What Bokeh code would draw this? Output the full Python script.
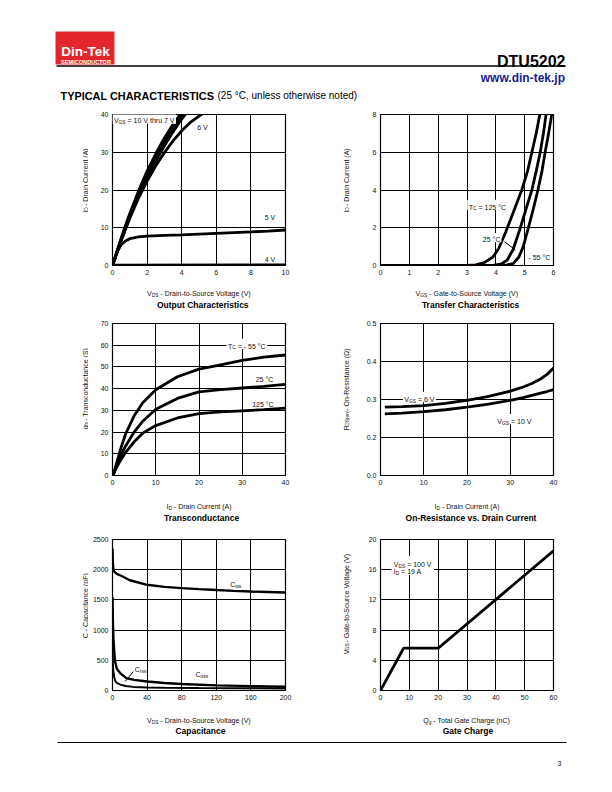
import math
from bokeh.plotting import figure
from bokeh.models import Range1d, FixedTicker, Label, BoxAnnotation
from bokeh.layouts import column, row
from bokeh.embed import file_html
from bokeh.resources import INLINE
from bokeh.core.properties import value

FONT = "Liberation Sans"

# ---------------- data ----------------
# Output characteristics (ID vs VDS)
out_vds_10v = [0, 0.25, 0.5, 0.75, 1, 1.5, 2, 2.5, 3, 3.5, 4]
out_id_10v = [0, 3.6, 7.2, 10.6, 13.8, 19.7, 25.0, 29.6, 33.8, 37.4, 40.6]
out_vds_9v = [0, 0.25, 0.5, 0.75, 1, 1.5, 2, 2.5, 3, 3.5, 4, 4.1]
out_id_9v = [0, 3.5, 7.0, 10.3, 13.4, 19.2, 24.4, 29.0, 33.2, 36.9, 40.2, 40.8]
out_vds_8v = [0, 0.25, 0.5, 0.75, 1, 1.5, 2, 2.5, 3, 3.5, 4, 4.2]
out_id_8v = [0, 3.4, 6.8, 10.0, 13.1, 18.8, 23.9, 28.4, 32.5, 36.2, 39.6, 40.8]
out_vds_7v = [0, 0.25, 0.5, 0.75, 1, 1.5, 2, 2.5, 3, 3.5, 4, 4.3]
out_id_7v = [0, 3.3, 6.6, 9.7, 12.7, 18.2, 23.2, 27.7, 31.7, 35.4, 38.8, 40.6]
out_vds_6v = [0, 0.25, 0.5, 0.75, 1, 1.5, 2, 2.5, 3, 3.5, 4, 4.5, 5, 5.5]
out_id_6v = [0, 3.3, 6.5, 9.6, 12.5, 17.8, 22.4, 26.4, 29.9, 33.0, 35.7, 37.9, 39.6, 41.0]
out_vds_5v = [0, 0.15, 0.3, 0.5, 0.75, 1, 1.5, 2, 3, 4, 5, 6, 7, 8, 9, 10]
out_id_5v = [0, 2.1, 3.9, 5.5, 6.5, 7.1, 7.6, 7.8, 8.0, 8.1, 8.3, 8.5, 8.7, 8.9, 9.1, 9.4]
out_vds_4v = [0, 10]
out_id_4v = [0.05, 0.12]
out_x_ticks = [0, 2, 4, 6, 8, 10]
out_y_ticks = [0, 10, 20, 30, 40]

# Transfer characteristics (ID vs VGS)
tr_vgs_125 = [0, 3.0, 3.3, 3.6, 3.9, 4.1, 4.35, 4.6, 4.9, 5.1, 5.25, 5.4, 5.55]
tr_id_125 = [0, 0, 0.03, 0.15, 0.45, 0.9, 1.8, 2.8, 4.0, 5.0, 6.0, 7.0, 8.2]
tr_vgs_25 = [0, 3.9, 4.2, 4.4, 4.6, 4.85, 5.05, 5.25, 5.4, 5.54, 5.65, 5.76]
tr_id_25 = [0, 0, 0.08, 0.3, 0.85, 2.0, 3.0, 4.0, 5.0, 6.0, 7.0, 8.2]
tr_vgs_m55 = [0, 4.3, 4.6, 4.8, 4.95, 5.13, 5.3, 5.46, 5.6, 5.71, 5.83, 5.96]
tr_id_m55 = [0, 0, 0.1, 0.45, 1.0, 2.0, 3.0, 4.0, 5.0, 6.0, 7.0, 8.2]
tr_x_ticks = [0, 1, 2, 3, 4, 5, 6]
tr_y_ticks = [0, 2, 4, 6, 8]

# Transconductance (gfs vs ID)
gfs_id = [0, 0.3, 1, 2, 3, 5, 7, 10, 15, 20, 25, 30, 35, 40]
gfs_m55 = [0, 1, 6, 13, 19, 27.5, 33.5, 39.5, 45.5, 49, 51, 53, 54.5, 55.5]
gfs_25 = [0, 1, 5, 9.5, 13.5, 20, 25, 30.5, 35.5, 38.5, 39.5, 40.3, 41, 42]
gfs_125 = [0, 1, 4, 7.5, 10.5, 15.5, 19.5, 23, 26.5, 28.5, 29.3, 29.8, 30.3, 31]
gfs_x_ticks = [0, 10, 20, 30, 40]
gfs_y_ticks = [0, 10, 20, 30, 40, 50, 60, 70]

# On-resistance vs drain current
rds_id = [1, 5, 10, 15, 20, 25, 30, 33, 35, 37, 38.5, 40]
rds_6v = [0.280, 0.281, 0.284, 0.290, 0.298, 0.308, 0.322, 0.333, 0.342, 0.354, 0.366, 0.383]
rds_10v = [0.262, 0.264, 0.268, 0.273, 0.280, 0.288, 0.298, 0.305, 0.311, 0.317, 0.321, 0.326]
rds_x_ticks = [0, 10, 20, 30, 40]
rds_y_ticks = [0.1, 0.2, 0.3, 0.4, 0.5]
rds_y_labels = ["0.0", "0.2", "0.3", "0.4", "0.5"]

# Capacitance vs VDS
cap_vds_ciss = [0, 0.5, 1, 2, 5, 10, 20, 40, 60, 80, 100, 120, 140, 160, 180, 200]
cap_ciss = [2350, 2100, 2010, 1970, 1930, 1900, 1825, 1750, 1715, 1695, 1678, 1663, 1650, 1638, 1630, 1622]
cap_vds_coss = [0, 0.5, 1, 1.5, 2, 3, 5, 9, 16, 25, 40, 60, 80, 120, 160, 200]
cap_coss = [1550, 1150, 880, 770, 650, 480, 360, 285, 205, 175, 150, 125, 108, 85, 72, 62]
cap_vds_crss = [0, 0.5, 1, 2, 3.4, 5, 9, 15, 24, 40, 60, 100, 140, 200]
cap_crss = [650, 420, 320, 220, 150, 125, 97, 75, 60, 50, 45, 40, 37, 33]
cap_x_ticks = [0, 40, 80, 120, 160, 200]
cap_y_ticks = [0, 500, 1000, 1500, 2000, 2500]

# Gate charge
qg_nc = [0, 8, 20, 60]
qg_vgs = [0, 5.6, 5.6, 18.5]
qg_x_ticks = [0, 10, 20, 30, 40, 50, 60]
qg_y_ticks = [0, 4, 8, 12, 16, 20]

# ---------------- text helpers ----------------
W = {' ': 278, '(': 333, ')': 333, ',': 278, '-': 333, '.': 278, '/': 278, '=': 584,
     ':': 278, '°': 400, 'Ω': 768,
     'A': 667, 'B': 667, 'C': 722, 'D': 722, 'E': 667, 'F': 611, 'G': 778, 'H': 722,
     'I': 278, 'J': 500, 'K': 667, 'L': 556, 'M': 833, 'N': 722, 'O': 778, 'P': 667,
     'Q': 778, 'R': 722, 'S': 667, 'T': 611, 'U': 722, 'V': 667, 'W': 944, 'X': 667,
     'Y': 667, 'Z': 611,
     'a': 556, 'b': 556, 'c': 500, 'd': 556, 'e': 556, 'f': 278, 'g': 556, 'h': 556,
     'i': 222, 'j': 222, 'k': 500, 'l': 222, 'm': 833, 'n': 556, 'o': 556, 'p': 556,
     'q': 556, 'r': 333, 's': 500, 't': 278, 'u': 556, 'v': 500, 'w': 722, 'x': 500,
     'y': 500, 'z': 500}


def twidth(s, size):
    return sum(W.get(c, 556) for c in s) * size / 1000.0


SCALES = {}
TXT = "#111111"
SUB = 0.7


def rich(p, x, y, parts, size=7.0, align="left", box=None):
    """Text inside a chart frame (Label annotations, anchored in data units)."""
    base = -0.358 * size
    sizes = [size * SUB if s else size for _, s in parts]
    widths = [twidth(t, fs) for (t, _), fs in zip(parts, sizes)]
    total = sum(widths)
    start = {"left": 0.0, "center": -total / 2.0, "right": -total}[align]
    if box is not None:
        sx, sy = SCALES[id(p)]
        l = start - box
        r = start + total + box
        b = -0.55 * size - box
        t = 0.5 * size + box
        p.add_layout(BoxAnnotation(left=x + l / sx, right=x + r / sx, bottom=y + b / sy,
                                   top=y + t / sy, fill_color="white", fill_alpha=1.0,
                                   line_color=None))
    pos = start
    for (t, s), fs, w in zip(parts, sizes, widths):
        stripped = t.lstrip(" ")
        lead = twidth(t[:len(t) - len(stripped)], fs)
        shift = -0.25 * size if s else 0.0
        lab = Label(x=x, y=y, text=stripped, x_offset=pos + lead, y_offset=base + shift,
                    text_align="left", text_baseline="alphabetic", text_font=FONT,
                    text_font_size=f"{fs:.2f}px", text_color=TXT)
        p.add_layout(lab)
        pos += w


def ptext(p, x, y, parts, size=7.0, align="center", vertical=False, bold=False,
          color=TXT, ydown=True):
    """Text drawn as text glyphs in a blank pixel-scaled figure; (x, y) = text centre."""
    sizes = [size * SUB if s else size for _, s in parts]
    widths = [twidth(t, fs) for (t, _), fs in zip(parts, sizes)]
    total = sum(widths)
    start = {"left": 0.0, "center": -total / 2.0, "right": -total}[align]
    pos = start
    for (t, s), fs, w in zip(parts, sizes, widths):
        stripped = t.lstrip(" ")
        lead = twidth(t[:len(t) - len(stripped)], fs)
        drop = 0.358 * size + (0.25 * size if s else 0.0)
        if vertical:
            px, py, ang = x + drop, y + pos + lead, math.pi / 2
        else:
            px = x + pos + lead
            py = y + drop if ydown else y - drop
            ang = 0.0
        p.text(x=[px], y=[py], text=[stripped], angle=ang, text_align="left",
               text_baseline="alphabetic", text_font=value(FONT),
               text_font_size=f"{fs:.2f}px", text_color=color,
               text_font_style="bold" if bold else "normal")
        pos += w


def blank(w, h, xr, yr):
    p = figure(width=w, height=h, x_range=Range1d(*xr), y_range=Range1d(*yr),
               output_backend="svg", toolbar_location=None, min_border=0,
               x_axis_type=None, y_axis_type=None)
    p.grid.visible = False
    p.outline_line_color = None
    p.background_fill_color = "white"
    p.border_fill_color = "white"
    return p


FW = 173


def chart(xr, yr, xt, yt, side, top, fh):
    bl, br = (24, 21) if side == "L" else (28, 59)
    bottom = 19
    p = figure(width=bl + FW + br, height=top + fh + bottom,
               x_range=Range1d(*xr), y_range=Range1d(*yr),
               output_backend="svg", toolbar_location=None,
               min_border_left=bl, min_border_right=br,
               min_border_top=top, min_border_bottom=bottom)
    SCALES[id(p)] = (FW / (xr[1] - xr[0]), fh / (yr[1] - yr[0]))
    p.xaxis.ticker = FixedTicker(ticks=xt)
    p.yaxis.ticker = FixedTicker(ticks=yt)
    for ax in (p.xaxis, p.yaxis):
        ax.axis_line_color = None
        ax.major_tick_line_color = None
        ax.minor_tick_line_color = None
        ax.major_tick_out = 0
        ax.major_tick_in = 0
        ax.major_label_text_font = FONT
        ax.major_label_text_font_size = "7px"
        ax.major_label_text_color = TXT
        ax.major_label_standoff = 4
    p.grid.grid_line_color = "black"
    p.grid.grid_line_width = 1
    p.grid.grid_line_alpha = 1.0
    p.outline_line_color = "black"
    p.outline_line_width = 1.2
    p.outline_line_alpha = 1.0
    p.background_fill_color = "white"
    p.border_fill_color = "white"
    return p


def ylab_fig(side, height, fh, parts):
    w = 88 if side == "L" else 46
    cx = 82 if side == "L" else 37
    p = blank(w, height, (0, w), (0, height))
    ptext(p, cx, 19 + fh / 2.0, parts, size=7, align="center", vertical=True)
    return p


LW = 2.8

# ---- chart 1: output characteristics ----
r1 = ((0, 10), (0, 40))
c1 = chart(r1[0], r1[1], out_x_ticks, out_y_ticks, "L", 6, 151)
for xs, ys in ((out_vds_10v, out_id_10v), (out_vds_9v, out_id_9v), (out_vds_8v, out_id_8v),
               (out_vds_7v, out_id_7v), (out_vds_6v, out_id_6v), (out_vds_5v, out_id_5v)):
    c1.line(xs, ys, line_width=LW, color="black")
c1.line(out_vds_4v, out_id_4v, line_width=3, color="black")
rich(c1, 0.08, 39.0, [("V", 0), ("GS", 1), (" = 10 V thru 7 V", 0)], box=1.5)
rich(c1, 4.9, 37.1, [("6 V", 0)])
rich(c1, 9.1, 13.3, [("5 V", 0)], align="center")
rich(c1, 9.1, 2.2, [("4 V", 0)], align="center")

# ---- chart 2: transfer characteristics ----
r2 = ((0, 6), (0, 8))
c2 = chart(r2[0], r2[1], tr_x_ticks, tr_y_ticks, "R", 6, 151)
for xs, ys in ((tr_vgs_125, tr_id_125), (tr_vgs_25, tr_id_25), (tr_vgs_m55, tr_id_m55)):
    c2.line(xs, ys, line_width=LW, color="black")
c2.segment(x0=[4.30], y0=[1.26], x1=[4.68], y1=[0.82], line_width=1, color="black")
rich(c2, 3.06, 3.22, [("T", 0), ("C", 1), (" = 125 °C", 0)], box=1.5)
rich(c2, 3.55, 1.49, [("25 °C", 0)], box=1.0)
rich(c2, 5.13, 0.57, [("- 55 °C", 0)], box=1.0)

# ---- chart 3: transconductance ----
r3 = ((0, 40), (0, 70))
c3 = chart(r3[0], r3[1], gfs_x_ticks, gfs_y_ticks, "L", 5, 152)
for ys in (gfs_m55, gfs_25, gfs_125):
    c3.line(gfs_id, ys, line_width=LW, color="black")
rich(c3, 26.7, 60.7, [("T", 0), ("C", 1), (" = - 55 °C", 0)], box=1.5)
rich(c3, 33.1, 45.3, [("25 °C", 0)], box=1.0)
rich(c3, 32.3, 34.0, [("125 °C", 0)], box=1.0)

# ---- chart 4: on-resistance ----
r4 = ((0, 40), (0.1, 0.5))
c4 = chart(r4[0], r4[1], rds_x_ticks, rds_y_ticks, "R", 5, 152)
c4.yaxis.major_label_overrides = {t: s for t, s in zip(rds_y_ticks, rds_y_labels)}
c4.line(rds_id, rds_6v, line_width=LW, color="black")
c4.line(rds_id, rds_10v, line_width=LW, color="black")
rich(c4, 5.5, 0.307, [("V", 0), ("GS", 1), (" = 6 V", 0)], box=1.5)
rich(c4, 27.0, 0.249, [("V", 0), ("GS", 1), (" = 10 V", 0)], box=1.5)

# ---- chart 5: capacitance ----
r5 = ((0, 200), (0, 2500))
c5 = chart(r5[0], r5[1], cap_x_ticks, cap_y_ticks, "L", 9, 151)
c5.line(cap_vds_ciss, cap_ciss, line_width=2.4, color="black")
c5.line(cap_vds_coss, cap_coss, line_width=2.4, color="black")
c5.line(cap_vds_crss, cap_crss, line_width=2.0, color="black")
c5.segment(x0=[14.6], y0=[150], x1=[24.0], y1=[311], line_width=1, color="black")
rich(c5, 136, 1792, [("C", 0), ("iss", 1)])
rich(c5, 96, 300, [("C", 0), ("oss", 1)])
rich(c5, 25.8, 390, [("C", 0), ("rss", 1)])

# ---- chart 6: gate charge ----
r6 = ((0, 60), (0, 20))
c6 = chart(r6[0], r6[1], qg_x_ticks, qg_y_ticks, "R", 9, 151)
c6.line(qg_nc, qg_vgs, line_width=LW, color="black")
c6.add_layout(BoxAnnotation(left=3.8, right=18.6, bottom=15.3, top=17.8, fill_color="white",
                            fill_alpha=1.0, line_color=None))
rich(c6, 4.6, 17.05, [("V", 0), ("DS", 1), (" = 100 V", 0)])
rich(c6, 4.6, 16.05, [("I", 0), ("D", 1), (" = 19 A", 0)])

# ---- y-axis label strips ----
yl1 = ylab_fig("L", 176, 151, [("I", 0), ("D", 1), (" - Drain Current (A)", 0)])
yl2 = ylab_fig("R", 176, 151, [("I", 0), ("D", 1), (" - Drain Current (A)", 0)])
yl3 = ylab_fig("L", 176, 152, [("g", 0), ("fs", 1), (" - Transconductance (S)", 0)])
yl4 = ylab_fig("R", 176, 152, [("R", 0), ("DS(on)", 1), (" - On-Resistance (Ω)", 0)])
yl5 = ylab_fig("L", 179, 151, [("C - Capacitance (pF)", 0)])
yl6 = ylab_fig("R", 179, 151, [("V", 0), ("GS", 1), (" - Gate-to-Source Voltage (V)", 0)])

# ---- x-axis label / title strips (page coordinates) ----
CXL = 112 + FW / 2.0
CXR = 380 + FW / 2.0


def xstrip(top, bottom, lab_y, title_y, lab_l, title_l, lab_r, title_r):
    p = blank(612, bottom - top, (0, 612), (bottom, top))
    ptext(p, CXL, lab_y, lab_l, size=7)
    ptext(p, CXL, title_y, [(title_l, 0)], size=8.5, bold=True, color="black")
    ptext(p, CXR, lab_y, lab_r, size=7)
    ptext(p, CXR, title_y, [(title_r, 0)], size=8.5, bold=True, color="black")
    return p


s1 = xstrip(284, 318, 290.7, 301.7,
            [("V", 0), ("DS", 1), (" - Drain-to-Source Voltage (V)", 0)], "Output Characteristics",
            [("V", 0), ("GS", 1), (" - Gate-to-Source Voltage (V)", 0)], "Transfer Characteristics")
s2 = xstrip(494, 530, 503.3, 514.5,
            [("I", 0), ("D", 1), (" - Drain Current (A)", 0)], "Transconductance",
            [("I", 0), ("D", 1), (" - Drain Current (A)", 0)], "On-Resistance vs. Drain Current")
s3 = xstrip(709, 740, 717.5, 727.0,
            [("V", 0), ("DS", 1), (" - Drain-to-Source Voltage (V)", 0)], "Capacitance",
            [("Q", 0), ("g", 1), (" - Total Gate Charge (nC)", 0)], "Gate Charge")

# ---------------- header ----------------
hdr = blank(612, 108, (0, 612), (108, 0))
hdr.quad(left=[55], right=[114], top=[31], bottom=[64], fill_color="#e3262b", line_color=None)
hdr.text(x=[85], y=[51], text=["Din-Tek"], text_font=value(FONT), text_font_style="bold",
         text_font_size="13.5px", text_color="white", text_align="center",
         text_baseline="alphabetic")
hdr.text(x=[85.5], y=[61], text=["SEMICONDUCTOR"], text_font=value(FONT),
         text_font_style="bold", text_font_size="5.6px", text_color="white",
         text_align="center", text_baseline="alphabetic")
hdr.text(x=[565], y=[61], text=["DTU5202"], text_font=value(FONT), text_font_style="bold",
         text_font_size="16px", text_color="black", text_align="right",
         text_baseline="alphabetic")
hdr.segment(x0=[56], y0=[65.5], x1=[565], y1=[65.5], line_width=1.3, color="black")
hdr.text(x=[564.5], y=[77], text=["www.din-tek.jp"], text_font=value(FONT),
         text_font_style="bold", text_font_size="12px", text_color="#1b1b8f",
         text_align="right", text_baseline="alphabetic")
hdr.text(x=[60], y=[95], text=["TYPICAL CHARACTERISTICS"], text_font=value(FONT),
         text_font_style="bold", text_font_size="10.9px", text_color="black",
         text_align="left", text_baseline="alphabetic")
hdr.text(x=[217], y=[95], text=["(25 °C, unless otherwise noted)"], text_font=value(FONT),
         text_font_size="10px", text_color="black", text_align="left",
         text_baseline="alphabetic")

# ---------------- footer ----------------
ftr = blank(612, 52, (0, 612), (792, 740))
ftr.segment(x0=[57], y0=[742], x1=[566], y1=[742], line_width=1.2, color="black")
ftr.text(x=[559], y=[762.5], text=["3"], text_font=value(FONT), text_font_size="7px",
         text_color=TXT, text_align="center", text_baseline="alphabetic")

layout = column(hdr,
                row(yl1, c1, yl2, c2), s1,
                row(yl3, c3, yl4, c4), s2,
                row(yl5, c5, yl6, c6), s3,
                ftr)
open("out.html", "w").write(file_html(layout, INLINE))
